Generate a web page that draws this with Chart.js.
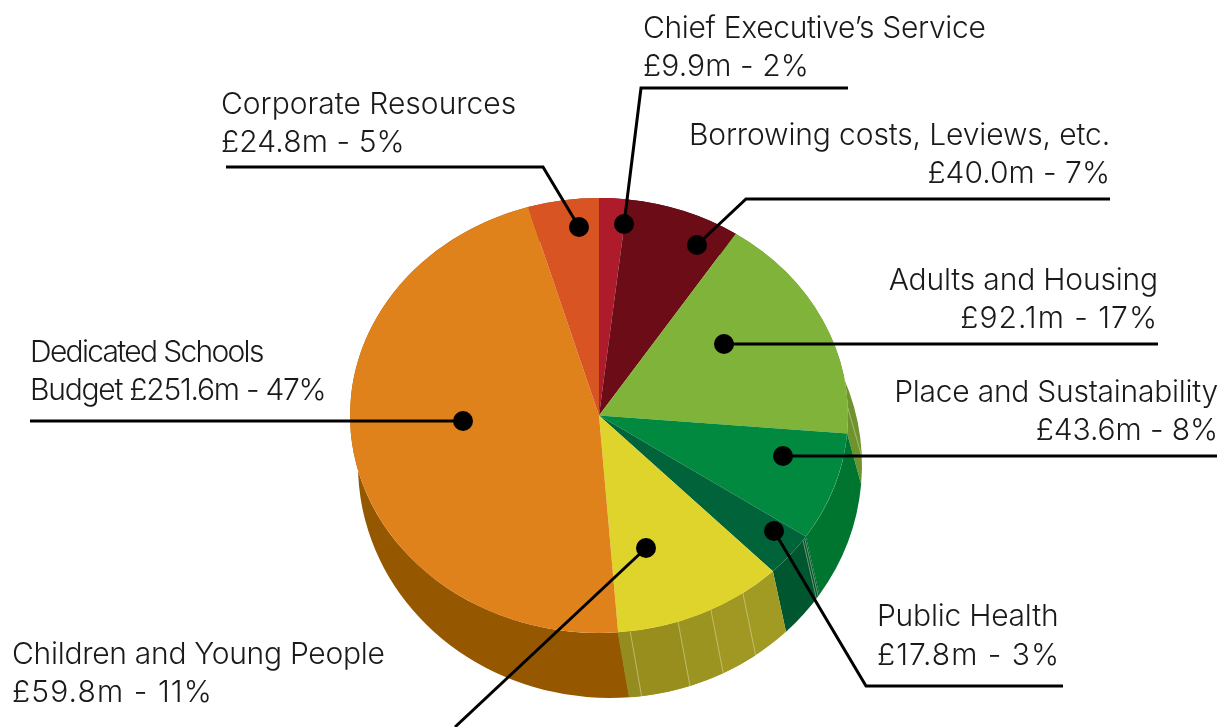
<!DOCTYPE html>
<html>
<head>
<meta charset="utf-8">
<title>Budget breakdown</title>
<script src="https://cdn.jsdelivr.net/npm/chart.js@4"></script>
<style>
  html, body { margin: 0; padding: 0; background: #fff; }
  canvas { display: block; }
</style>
</head>
<body>
<canvas id="myChart" width="1223" height="727"></canvas>
<script>
let categories = ['Chief Executive’s Service', 'Borrowing costs, Leviews, etc.', 'Adults and Housing', 'Place and Sustainability', 'Public Health', 'Children and Young People', 'Dedicated Schools Budget', 'Corporate Resources'];
let amounts = [9.9, 40.0, 92.1, 43.6, 17.8, 59.8, 251.6, 24.8];
let percents = [2, 7, 17, 8, 3, 11, 47, 5];
let topColors = ['#AE1C2B', '#6B0C16', '#7FB339', '#00893F', '#00633A', '#DFD42B', '#DF821B', '#D85423'];
let sideColors = ['#7E1420', '#4A0810', '#6F932D', '#00752F', '#00572F', '#A19A23', '#955800', '#9A3A14'];

// text value for each slice, e.g. £9.9m - 2%
let valueText = amounts.map((v, i) => '£' + v.toFixed(1) + 'm - ' + percents[i] + '%');

// the disc: top face and the lower rim are separate ellipses
let topFace = { x: 599, y: 415.5, rx: 249, ry: 217.5 };
let bottomFace = { x: 610, y: 465, rx: 252, ry: 233 };

// shading and seams on the rim, angles in degrees clockwise from 12 o'clock
let rimBands = [
  { from: 172.8, to: 175.7, color: '#958C1F' },
  { from: 161.5, to: 172.8, color: '#978E1E' },
  { from: 153.3, to: 161.5, color: '#9C9420' },
  { from: 144.7, to: 153.3, color: '#A09822' }
];
let rimSeams = [172.8, 161.5, 153.3, 144.7, 125, 124.3, 88];

// label lines with their letter spacing, leader path ends on the dot
let callouts = [
  { lines: [categories[0], valueText[0]], spacing: [-0.33, 0.1], x: 643, y: [29, 67], align: 'left', path: [[848, 88], [641, 88], [624, 224]] },
  { lines: [categories[7], valueText[7]], spacing: [0, 0.1], x: 221, y: [105, 143], align: 'left', path: [[226, 167], [543, 167], [579, 227]] },
  { lines: [categories[1], valueText[1]], spacing: [-0.13, 0], x: 1110, y: [136, 174], align: 'right', path: [[1110, 199], [746, 199], [697, 245]] },
  { lines: [categories[2], valueText[2]], spacing: [-0.17, 1], x: 1158, y: [281, 319], align: 'right', path: [[1158, 344], [724, 344]] },
  { lines: [categories[3], valueText[3]], spacing: [-0.25, -0.1], x: 1218, y: [393, 431], align: 'right', path: [[1217, 456], [783, 456]] },
  { lines: [categories[4], valueText[4]], spacing: [-0.23, 1], x: 877, y: [617, 656], align: 'left', path: [[1063, 686], [866, 686], [774, 531]] },
  { lines: [categories[5], valueText[5]], spacing: [-0.28, 1.1], x: 12, y: [655, 693], align: 'left', path: [[455, 727], [646, 548]], dotAt: 1 },
  { lines: ['Dedicated Schools', 'Budget ' + valueText[6]], spacing: [-1.7, -1.25], x: 30, y: [353, 391], align: 'left', path: [[30, 421], [463, 421]] }
];

function rimShape(ctx, a0, a1) {
  ctx.beginPath();
  ctx.ellipse(topFace.x, topFace.y, topFace.rx, topFace.ry, 0, a0, a1);
  ctx.ellipse(bottomFace.x, bottomFace.y, bottomFace.rx, bottomFace.ry, 0, a1, a0, true);
  ctx.closePath();
}

function clockToRad(deg) {
  return (deg - 90) * Math.PI / 180;
}

let discPlugin = {
  id: 'disc',
  // rim goes down first, then the slices get squashed onto the top ellipse
  beforeDatasetDraw(chart) {
    let ctx = chart.ctx;
    let arcs = chart.getDatasetMeta(0).data;
    arcs.forEach((arc, i) => {
      rimShape(ctx, arc.startAngle, arc.endAngle);
      ctx.fillStyle = sideColors[i];
      ctx.fill();
    });
    rimBands.forEach((band) => {
      rimShape(ctx, clockToRad(band.from), clockToRad(band.to));
      ctx.fillStyle = band.color;
      ctx.fill();
    });
    ctx.strokeStyle = 'rgba(235,235,200,0.45)';
    ctx.lineWidth = 1;
    rimSeams.forEach((deg) => {
      let a = clockToRad(deg);
      ctx.beginPath();
      ctx.moveTo(topFace.x + topFace.rx * Math.cos(a), topFace.y + topFace.ry * Math.sin(a));
      ctx.lineTo(bottomFace.x + bottomFace.rx * Math.cos(a), bottomFace.y + bottomFace.ry * Math.sin(a));
      ctx.stroke();
    });
    let c = arcs[0];
    ctx.save();
    ctx.translate(topFace.x, topFace.y);
    ctx.scale(1, topFace.ry / topFace.rx);
    ctx.translate(-c.x, -c.y);
  },
  afterDatasetDraw(chart) {
    chart.ctx.restore();
  },
  afterDraw(chart) {
    let ctx = chart.ctx;
    ctx.save();
    ctx.font = '300 30px Inter, "Liberation Sans", sans-serif';
    ctx.textBaseline = 'middle';
    callouts.forEach((c) => {
      ctx.textAlign = c.align;
      ctx.fillStyle = '#1a1a1a';
      c.lines.forEach((line, i) => {
        ctx.letterSpacing = c.spacing[i] + 'px';
        ctx.fillText(line, c.x, c.y[i]);
      });
      ctx.strokeStyle = '#000';
      ctx.lineWidth = 3;
      ctx.beginPath();
      c.path.forEach((p, i) => i ? ctx.lineTo(p[0], p[1]) : ctx.moveTo(p[0], p[1]));
      ctx.stroke();
      let dot = c.path[c.dotAt === undefined ? c.path.length - 1 : c.dotAt];
      ctx.fillStyle = '#000';
      ctx.beginPath();
      ctx.arc(dot[0], dot[1], 10, 0, Math.PI * 2);
      ctx.fill();
    });
    ctx.restore();
  }
};

let chartCtx = document.getElementById('myChart').getContext('2d');

let myChart = new Chart(chartCtx, {
  type: 'pie',
  data: {
    labels: categories,
    datasets: [{
      data: amounts,
      backgroundColor: topColors,
      borderWidth: 0
    }]
  },
  options: {
    responsive: false,
    animation: false,
    events: [],
    radius: topFace.rx,
    plugins: {
      legend: { display: false },
      tooltip: { enabled: false }
    }
  },
  plugins: [discPlugin]
});
</script>
</body>
</html>
